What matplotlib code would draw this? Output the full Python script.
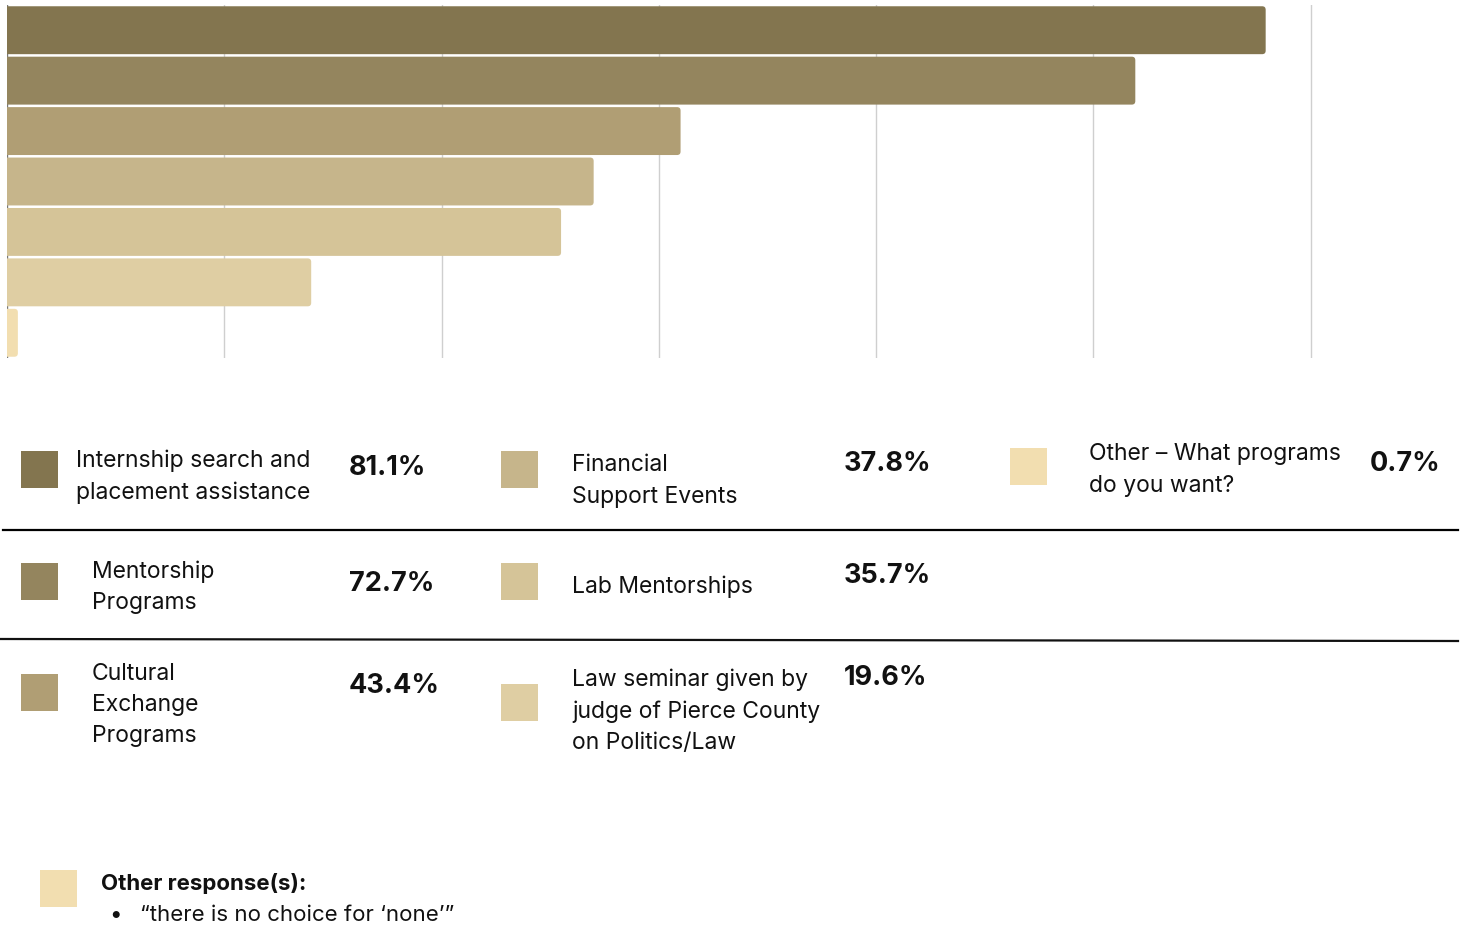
import matplotlib
matplotlib.use("Agg")
import matplotlib.pyplot as plt
from matplotlib.patches import FancyBboxPatch, Rectangle
from matplotlib.lines import Line2D

plt.rcParams['font.family'] = ['Inter', 'DejaVu Sans']

# Survey results: share of respondents interested in each program
programs = [
    "Internship search and\nplacement assistance",
    "Mentorship\nPrograms",
    "Cultural\nExchange\nPrograms",
    "Financial\nSupport Events",
    "Lab Mentorships",
    "Law seminar given by\njudge of Pierce County\non Politics/Law",
    "Other \u2013 What programs\ndo you want?",
]
shares = [81.1, 72.7, 43.4, 37.8, 35.7, 19.6, 0.7]
colors = ["#83754F", "#94855E", "#B09E74", "#C6B58B", "#D5C498", "#DFCEA3", "#F2DEB0"]
grid_ticks = [0, 14, 28, 42, 56, 70, 84]
other_title = "Other response(s):"
other_responses = ["\u201cthere is no choice for \u2018none\u2019\u201d"]

W, H = 1462, 926
fig = plt.figure(figsize=(W / 100, H / 100), dpi=100)


def fx(px):
    return px / W


def fy(py):
    return 1 - py / H


# ---- bar chart -------------------------------------------------------------
ax_left, ax_right, ax_top, ax_bottom = 7, 1462, 5, 358
px_per_x = 15.52
ax = fig.add_axes([fx(ax_left), fy(ax_bottom), fx(ax_right - ax_left), (ax_bottom - ax_top) / H])
xmax = (ax_right - ax_left) / px_per_x
ax.set_xlim(0, xmax)
ax.set_ylim(len(shares) - 0.5, -0.5)
for s in ax.spines.values():
    s.set_visible(False)
ax.set_xticks([])
ax.set_yticks([])

for t in grid_ticks:
    ax.axvline(t, color="#777777" if t == 0 else "#CFCFCF", lw=1.0, zorder=0)

bars = ax.barh(range(len(shares)), shares, height=0.95, color=colors, zorder=2)

# Replace each bar by a version with rounded right-hand corners
px_per_y = (ax_bottom - ax_top) / len(shares)
aspect = px_per_x / px_per_y
radius = 3.5 / px_per_x
for rect in bars:
    x0, y0 = rect.get_x(), rect.get_y()
    w, h = rect.get_width(), rect.get_height()
    rect.set_visible(False)
    patch = FancyBboxPatch(
        (x0 - 2 * radius, y0), w + 2 * radius, h,
        boxstyle=f"round,pad=0,rounding_size={radius}",
        mutation_aspect=aspect,
        facecolor=rect.get_facecolor(), edgecolor="none", zorder=2,
        clip_on=True,
    )
    ax.add_patch(patch)

# ---- legend table ----------------------------------------------------------
# (square x, square top, text x, text centre y, value x, value centre y)
layout = [
    (21, 451, 76, 477, 349, 468),
    (21, 563, 92, 587, 349, 584),
    (21, 674, 92, 705, 349, 686),
    (501, 451, 572, 481, 844, 464),
    (501, 563, 572, 587, 844, 576),
    (501, 684, 572, 711, 844, 678),
    (1010, 448, 1089, 470, 1370, 464),
]
sq = 37
label_size = 16.5
value_size = 19.5
for (sx, sy, tx, ty, vx, vy), name, val, col in zip(layout, programs, shares, colors):
    fig.add_artist(Rectangle((fx(sx), fy(sy + sq)), sq / W, sq / H,
                             transform=fig.transFigure, facecolor=col, edgecolor="none"))
    fig.text(fx(tx), fy(ty), name, fontsize=label_size, color="#111111",
             ha="left", va="center", linespacing=1.53)
    fig.text(fx(vx), fy(vy), f"{val:.1f}%", fontsize=value_size, fontweight="bold",
             color="#111111", ha="left", va="center")

# row separators
fig.add_artist(Line2D([fx(3), fx(1458)], [fy(530), fy(530)], transform=fig.transFigure,
                      color="#000000", lw=1.6))
fig.add_artist(Line2D([fx(1), fx(1458)], [fy(639), fy(641)], transform=fig.transFigure,
                      color="#111111", lw=1.6))

# ---- free-text "other" answers --------------------------------------------
fig.add_artist(Rectangle((fx(40), fy(907)), sq / W, sq / H, transform=fig.transFigure,
                         facecolor=colors[-1], edgecolor="none"))
fig.text(fx(101), fy(884), other_title, fontsize=16, fontweight="bold",
         color="#111111", ha="left", va="center")
for i, resp in enumerate(other_responses):
    y = 915 + i * 31
    fig.text(fx(109), fy(y), "\u2022", fontsize=16, color="#111111", ha="left", va="center")
    fig.text(fx(140), fy(y), resp, fontsize=16, color="#111111", ha="left", va="center")

fig.savefig("out.png", dpi=100, facecolor="white")
